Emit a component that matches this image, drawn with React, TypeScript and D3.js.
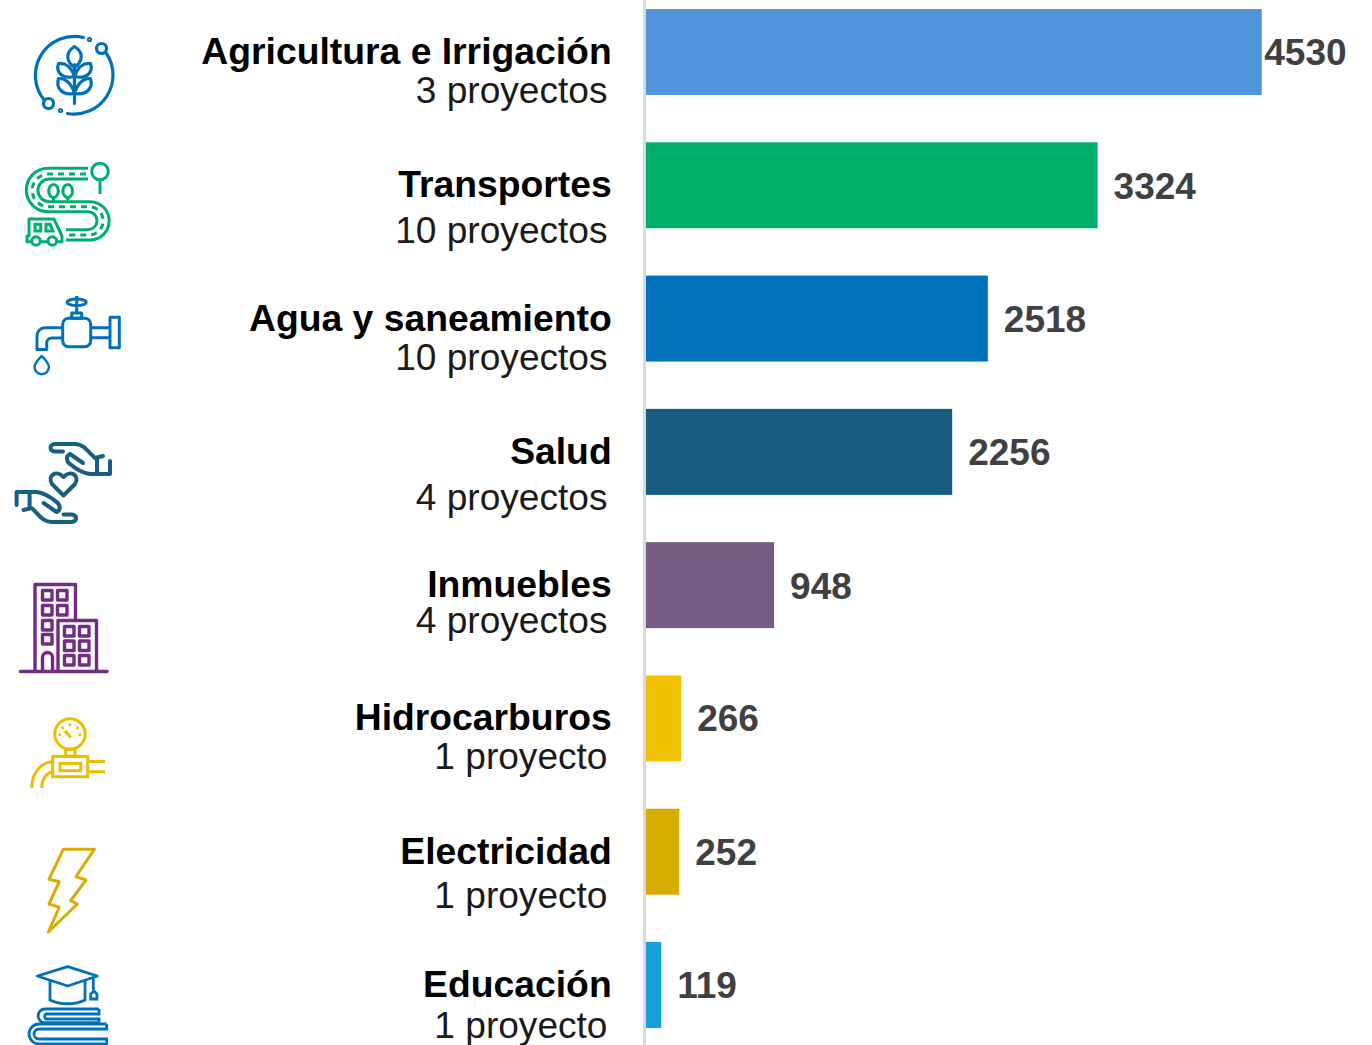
import * as d3 from "d3";

const svg_width = 1372;
const svg_height = 1045;

const sectors = ["Agricultura e Irrigación", "Transportes", "Agua y saneamiento", "Salud", "Inmuebles", "Hidrocarburos", "Electricidad", "Educación"];
const projects = ["3 proyectos", "10 proyectos", "10 proyectos", "4 proyectos", "4 proyectos", "1 proyecto", "1 proyecto", "1 proyecto"];
const amounts = [4530, 3324, 2518, 2256, 948, 266, 252, 119];
const bar_colors = ["#5095DB", "#00AE6B", "#0070BB", "#175E82", "#775B82", "#F2C100", "#D9AD00", "#179FD9"];
// the second label line sits at an uneven distance in the original
const project_gaps = [39, 46, 39, 46, 36, 39, 44, 41];
const value_shifts = [0, 1, 0, 0, 1, 0, 0, 0];

const x = d3.scaleLinear().domain([0, 4530]).range([645, 1261.8]);
const y = d3.scaleBand<string>().domain(sectors).range([9, 1028]).paddingInner(0.355).paddingOuter(0);

const font = "'Liberation Sans', Arial, sans-serif";

function Wheat() {
    return (
        <g fill="none" stroke="#0070BB" strokeWidth={3.2} strokeLinecap="round" strokeLinejoin="round" transform="translate(0.5 0.5)">
            <path d="M83,37 A39,39 0 0 0 44,100" />
            <path d="M67,113 A39,39 0 0 0 106,53" />
            <circle cx={101} cy={48} r={5} />
            <circle cx={48} cy={103} r={5} />
            <path d="M74,64 V103" />
            <path d="M74,46 C65,52 65,60 74,67 C83,60 83,52 74,46 Z" />
            <path d="M74,76 C71,67 65,62 58,63 C55,72 62,79 74,76 C86,79 93,72 90,63 C83,62 77,67 74,76" />
            <path d="M74,93 C71,83 65,78 58,78 C55,88 62,95 74,93 C86,95 93,88 90,78 C83,78 77,83 74,93" />
            <circle cx={89} cy={39} r={1} />
            <circle cx={60} cy={110} r={1} />
        </g>
    );
}

function Road() {
    return (
        <g fill="none" stroke="#00AE6B" strokeWidth={3}>
            <path d="M88,168.3 H48 A21.7,21.7 0 0 0 48,211.7 H88 A9,9 0 0 1 88,229.7 H66" />
            <path d="M88,179 H49.3 A11.3,11.3 0 0 0 49.3,201.7 H90 A19.1,19.1 0 0 1 90,240 H66" />
            <path d="M86,174 H48.5 A16.3,16.3 0 0 0 48.5,206.7 H89 A14.1,14.1 0 0 1 89,235 H66" strokeDasharray="6 5" />
            <ellipse cx={53.5} cy={191} rx={4.8} ry={6.5} />
            <ellipse cx={67.7} cy={191} rx={4.8} ry={6.5} />
            <path d="M53.5,197 V201 M67.7,197 V201" />
            <circle cx={100} cy={171.5} r={8.3} />
            <path d="M100,180 V194" />
            <path d="M31,241.7 H27 V236 H29 L29,219 H54 L62,236 V241.7 H57 M47.5,241.7 H41" strokeLinejoin="round" />
            <circle cx={36} cy={241} r={4.3} />
            <circle cx={52.3} cy={241} r={4.3} />
            <rect x={35} y={224.3} width={5.7} height={6.7} />
            <path d="M46,224.3 H50 L53,231 H46 Z" />
        </g>
    );
}

function Tap() {
    return (
        <g fill="none" stroke="#0070BB" strokeWidth={3} strokeLinejoin="round">
            <ellipse cx={76.7} cy={302.3} rx={9.5} ry={3.3} />
            <path d="M76.7,296 V313" />
            <rect x={71.7} y={313} width={10} height={5.3} />
            <rect x={62.7} y={318.3} width={28} height={28.4} rx={6} />
            <path d="M90.7,327.7 H110 M90.7,337.7 H110" />
            <rect x={110} y={317.3} width={9.3} height={30.4} />
            <path d="M62.7,327.7 H45 A8,8 0 0 0 37,335.7 V349.5 H46.7 V343 A5,5 0 0 1 51.7,338 H62.7" />
            <path d="M41.7,356 C38,360 34.5,363 34.5,367 A7.2,7.2 0 0 0 48.9,367 C48.9,363 45.4,360 41.7,356 Z" strokeWidth={2.4} />
        </g>
    );
}

function Hand() {
    return (
        <g>
            <path d="M75,444 H55 C49,444 49,451.5 55,451.5 H63" />
            <path d="M75,444 C84,444 88,452 95,458 L103,456" />
            <path d="M70,454 L83,463 M70,454 C65,456 67,462 70,464 C76,469 82,473 90,474 H110 V461" />
            <path d="M97,458 V474" />
        </g>
    );
}

function Hands() {
    return (
        <g fill="none" stroke="#175E82" strokeWidth={4} strokeLinecap="round" strokeLinejoin="round">
            <Hand />
            <g transform="rotate(180 63.3 483)">
                <Hand />
            </g>
            <path d="M63.5,495.5 L52,484 C47,476 56,469 63.5,477 C71,469 80,476 75,484 Z" />
        </g>
    );
}

function Building() {
    const win_a = [[42, 590], [57, 590], [42, 605], [57, 605], [42, 620], [42, 634]];
    const win_b = [[64, 626], [79, 626], [64, 640.5], [79, 640.5], [64, 655], [79, 655]];
    return (
        <g fill="none" stroke="#732B85" strokeWidth={3.4} strokeLinejoin="round" transform="translate(0.5 0.5)">
            <path d="M34.5,670 V584 H75 V620" />
            <path d="M57.5,670 V620 H96 V670" />
            <path d="M20,671 H106.5" strokeLinecap="round" />
            <path d="M42,670 V657 A5,5 0 0 1 52,657 V670" />
            {win_a.concat(win_b).map(([wx, wy], i) => (
                <rect key={i} x={wx} y={wy} width={9.5} height={9.5} />
            ))}
        </g>
    );
}

function Gauge() {
    return (
        <g fill="none" stroke="#EBBD00" strokeWidth={3} transform="translate(0 0.7)">
            <circle cx={70} cy={733.3} r={15.2} />
            <path d="M65,730 L70.7,736.7" />
            <path d="M60,734 v0.1 M62.5,727 v0.1 M70,724 v0.1 M77.5,727 v0.1 M80,734 v0.1" strokeLinecap="round" />
            <rect x={65.7} y={748.5} width={9.3} height={7} />
            <rect x={52.7} y={755.7} width={35} height={20.3} />
            <rect x={60} y={762.7} width={20.7} height={7.3} />
            <path d="M87.7,760.7 H105 M87.7,771 H105" />
            <path d="M52.7,760.7 C41,762 31.7,772 31.7,787.3" />
            <path d="M52.7,771 C46,772 41.7,779 41.7,787.3" />
        </g>
    );
}

function Bolt() {
    return (
        <path
            d="M63.3,849.3 H94.3 L76,876.7 L86,880 L70.7,900.7 L77.3,904 L48.3,932 L59.3,907.3 L49,904 L59.3,881.7 L49,879.3 Z"
            fill="none" stroke="#D9AD00" strokeWidth={3} strokeLinejoin="round"
        />
    );
}

function Books() {
    return (
        <g fill="none" stroke="#0070BB" strokeWidth={2.8}>
            <path d="M37.3,976 L67.7,966.7 L97.3,976 L67.7,986 Z" strokeLinejoin="round" />
            <path d="M50,980.5 V1000 C60,1005 75,1005 85,1000 V980.5" />
            <path d="M93.3,977 V990" />
            <path d="M90.7,999 V994 L93.8,991 L97,994 V999 Z" />
            <path d="M99,1009 H45 A6.8,6.8 0 0 0 45,1022.7 H99 M99,1009 V1014 H46 A3,3 0 0 0 46,1019 H99 V1022.7" />
            <path d="M106.7,1024 H39 A10,10 0 0 0 39,1044 H106.7 V1039 H39 A5,5 0 0 1 39,1029 H106.7 V1024" />
        </g>
    );
}

export default function App() {
    return (
        <svg
            width={svg_width}
            height={svg_height}
            style={{ position: "absolute", left: 0, top: 0, background: "white" }}
            fontFamily={font}
        >
            <Wheat />
            <Road />
            <Tap />
            <Hands />
            <Building />
            <Gauge />
            <Bolt />
            <Books />

            {sectors.map((s, i) => {
                const top = y(s)!;
                const mid = top + y.bandwidth() / 2;
                const w = x(amounts[i]) - x(0);
                const value_x = i === 0 ? x(amounts[i]) + 2.5 : x(amounts[i]) + 16;
                return (
                    <g key={s}>
                        <rect x={x(0)} y={top} width={w} height={y.bandwidth()} fill={bar_colors[i]} />
                        <text x={611.7} y={mid + 12} textAnchor="end" fontSize={37.3} fontWeight="bold" fill="#000">{s}</text>
                        <text x={607.5} y={mid + 12 + project_gaps[i]} textAnchor="end" fontSize={37.1} fill="#1a1a1a">{projects[i]}</text>
                        <text x={value_x} y={mid + 13 + value_shifts[i]} fontSize={37} fontWeight="bold" fill="#404040">{amounts[i]}</text>
                    </g>
                );
            })}
            <line x1={644.5} x2={644.5} y1={0} y2={svg_height} stroke="#D9D9D9" strokeWidth={3} />
        </svg>
    );
}
